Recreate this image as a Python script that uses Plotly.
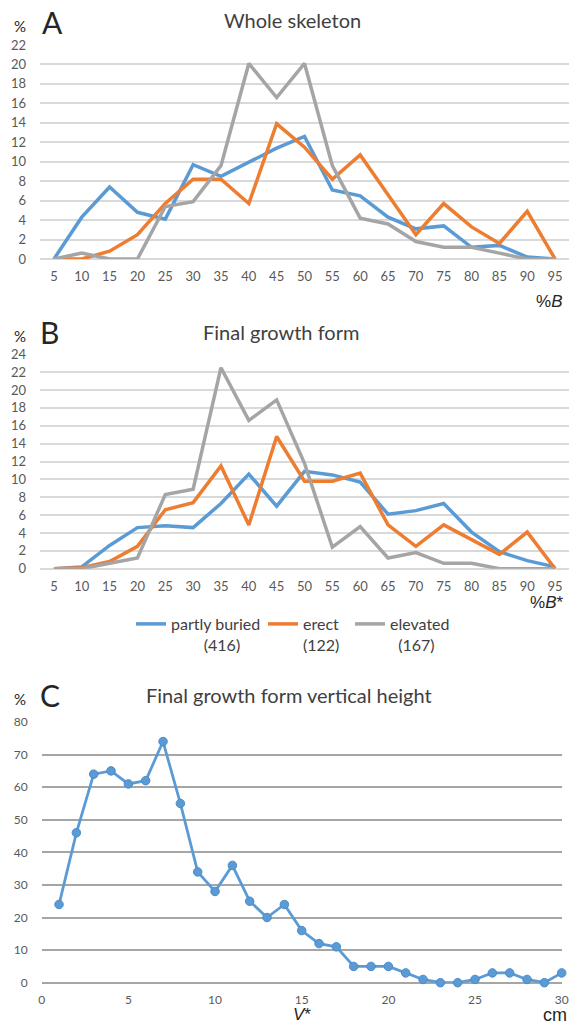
import plotly.graph_objects as go

# ---------------- data ----------------
bins = [5, 10, 15, 20, 25, 30, 35, 40, 45, 50, 55, 60, 65, 70, 75, 80, 85, 90, 95]

whole_partly = [0, 4.3, 7.4, 4.8, 4.1, 9.7, 8.5, 10.0, 11.4, 12.6, 7.1, 6.5, 4.3, 3.1, 3.4, 1.2, 1.4, 0.2, 0]
whole_erect = [0, 0, 0.8, 2.5, 5.7, 8.2, 8.2, 5.7, 13.9, 11.5, 8.2, 10.7, 6.6, 2.5, 5.7, 3.3, 1.6, 4.9, 0]
whole_elev = [0, 0.6, 0, 0, 5.4, 5.9, 9.6, 20.1, 16.6, 20.1, 9.6, 4.2, 3.6, 1.8, 1.2, 1.2, 0.6, 0, 0]

final_partly = [0, 0.2, 2.6, 4.6, 4.8, 4.6, 7.3, 10.6, 7.0, 10.9, 10.5, 9.7, 6.1, 6.5, 7.3, 4.1, 1.9, 0.9, 0.2]
final_erect = [0, 0.1, 0.8, 2.5, 6.6, 7.4, 11.5, 4.9, 14.8, 9.8, 9.8, 10.7, 4.9, 2.5, 4.9, 3.3, 1.6, 4.1, 0]
final_elev = [0, 0, 0.6, 1.2, 8.3, 8.9, 22.5, 16.6, 18.9, 11.8, 2.4, 4.7, 1.2, 1.8, 0.6, 0.6, 0, 0, 0]

height_cm = list(range(1, 31))
height_pct = [24, 46, 64, 65, 61, 62, 74, 55, 34, 28, 36, 25, 20, 24, 16, 12, 11, 5, 5, 5,
              3, 1, 0, 0, 1, 3, 3, 1, 0, 3]

series_names = ["partly buried", "erect", "elevated"]
series_counts = ["(416)", "(122)", "(167)"]
series_pads = [8, 0, 2]
colors = ["#5B9BD5", "#ED7D31", "#A5A5A5"]

# ---------------- helpers ----------------
W, H = 572, 1030
def xp(px):
    return px / W
def yp(px):
    return 1 - px / H

FONT = "Lato"
TICKC = "#595959"
TXTC = "#404040"

fig = go.Figure()

whole = [whole_partly, whole_erect, whole_elev]
final = [final_partly, final_erect, final_elev]
legend_widths = [87, 42, 60]
for i in range(3):
    fig.add_trace(go.Scatter(
        x=bins, y=whole[i], mode="lines", xaxis="x", yaxis="y",
        line=dict(color=colors[i], width=3.5), showlegend=False, cliponaxis=False))
for i in range(3):
    label = series_names[i] + "<br>" + "\u00a0" * series_pads[i] + series_counts[i]
    fig.add_trace(go.Scatter(
        x=bins, y=final[i], mode="lines", xaxis="x2", yaxis="y2", name=label,
        legendwidth=legend_widths[i],
        line=dict(color=colors[i], width=3.5), showlegend=True, cliponaxis=False))

fig.add_trace(go.Scatter(
    x=height_cm, y=height_pct, mode="lines+markers", xaxis="x3", yaxis="y3",
    line=dict(color="#5B9BD5", width=2.8),
    marker=dict(color="#5B9BD5", size=8.5, line=dict(color="#4A8BC9", width=1)),
    showlegend=False, cliponaxis=False))

grid_light = "#D9D9D9"
grid_dark = "#A6A6A6"

def xax(domain, rng, tickvals, anchor, size=13):
    return dict(domain=domain, range=rng, tickmode="array", tickvals=tickvals,
                showgrid=False, zeroline=False, showline=False, ticks="",
                tickfont=dict(family=FONT, size=size, color=TICKC),
                ticklabelstandoff=8, anchor=anchor, fixedrange=True, automargin=False)

def yax(domain, rng, dtick, anchor, gridc, size=13):
    return dict(domain=domain, range=rng, dtick=dtick, tick0=0,
                showgrid=True, gridcolor=gridc, gridwidth=1.5,
                zeroline=True, zerolinecolor=gridc, zerolinewidth=1.5,
                showline=False, ticks="",
                tickfont=dict(family=FONT, size=size, color=TICKC),
                ticklabelstandoff=13, anchor=anchor, fixedrange=True, automargin=False)

xdomAB = [xp(40), xp(569)]
fig.update_layout(
    width=W, height=H,
    margin=dict(l=0, r=0, t=0, b=0, autoexpand=False),
    paper_bgcolor="white", plot_bgcolor="white",
    font=dict(family=FONT, color=TXTC),
    xaxis=xax(xdomAB, [2.5, 97.5], bins, "y"),
    yaxis=yax([yp(259), yp(45)], [0, 22], 2, "x", grid_light),
    xaxis2=xax(xdomAB, [2.5, 97.5], bins, "y2"),
    yaxis2=yax([yp(568.7), yp(354.3)], [0, 24], 2, "x2", grid_light),
    xaxis3=xax([xp(41.7), xp(561.7)], [0, 30], [0, 5, 10, 15, 20, 25, 30], "y3", size=12),
    yaxis3=yax([yp(982.7), yp(722)], [0, 80], 10, "x3", grid_dark, size=12),
    legend=dict(orientation="h", x=xp(131), y=yp(607), xanchor="left", yanchor="top",
                valign="top", font=dict(family=FONT, size=16, color=TXTC),
                bgcolor="rgba(0,0,0,0)", itemwidth=30, tracegroupgap=0),
)

ann = []
def add_text(text, x, y, size, color=TXTC, family=FONT, xanchor="center"):
    ann.append(dict(text=text, x=xp(x), y=yp(y), xref="paper", yref="paper",
                    showarrow=False, xanchor=xanchor, yanchor="middle",
                    font=dict(family=family, size=size, color=color)))

# panel letters, % signs, titles
add_text("A", 40, 22, 30, "#262626", xanchor="left")
add_text("B", 38, 332, 30, "#262626", xanchor="left")
add_text("C", 38, 695, 30, "#262626", xanchor="left")
for yy in (26, 336, 699):
    add_text("%", 20, yy, 15, "#262626")
add_text("Whole skeleton", 293, 20, 20)
add_text("Final growth form", 281, 332, 20)
add_text("Final growth form vertical height", 289, 695, 20)
# axis labels
add_text("%<i>B</i>", 549, 301, 17, "#262626", family="Liberation Sans")
add_text("%<i>B</i>*", 546, 602, 17, "#262626", family="Liberation Sans")
add_text("<i>V</i>*", 302, 1014, 17, "#262626", family="Liberation Sans")
add_text("cm", 555, 1015, 18, "#262626", family="Liberation Sans")

fig.update_layout(annotations=ann)

# remove the browser's default 8px body margin so the figure fills the window
fig.write_html("out.html", config={"displayModeBar": False},
               post_script="document.body.style.margin='0';")
